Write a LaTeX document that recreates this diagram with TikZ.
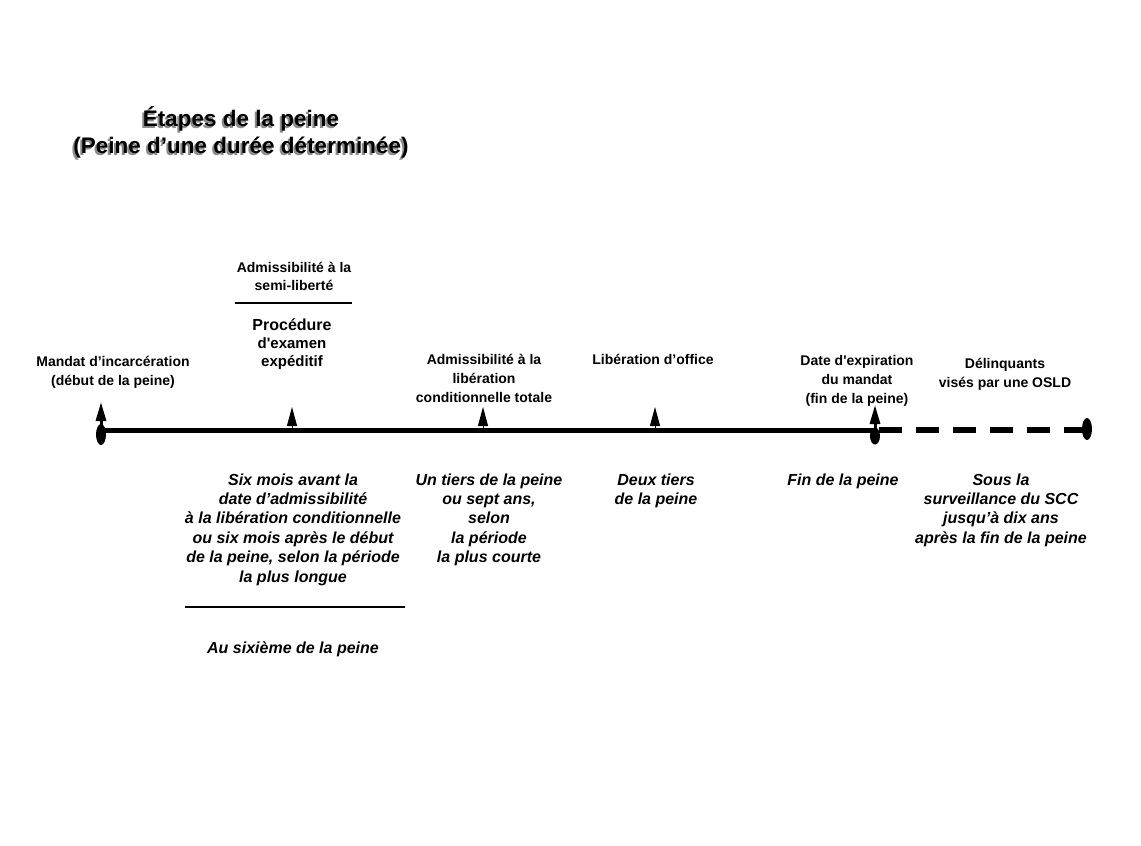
\documentclass[tikz,border=0pt]{standalone}
\usepackage{fontspec}
\setmainfont{Liberation Sans}
\usetikzlibrary{arrows.meta,shapes.geometric}
\begin{document}
\begin{tikzpicture}[x=1pt,y=-1pt,
  lbl/.style={align=center,anchor=base,inner sep=0pt,font=\fontsize{14}{19}\selectfont\bfseries},
  note/.style={align=center,anchor=base,inner sep=0pt,font=\fontsize{16}{19.4}\selectfont\bfseries\itshape},
  ttl/.style={align=center,anchor=base,inner sep=0pt,font=\fontsize{22.5}{27}\selectfont\bfseries},
  axisline/.style={line width=5pt},
  extline/.style={line width=6pt,dash pattern=on 23pt off 14pt,dash phase=33pt},
  dot/.style={ellipse,fill=black,inner sep=0pt,minimum width=10pt,minimum height=21pt},
  tick/.style={line width=1pt,-{Triangle[length=19pt,width=10pt]}},
  sep/.style={line width=1.5pt}
]
\fill[white] (0,0) rectangle (1141,846);
\useasboundingbox (0,0) rectangle (1141,846);

% title with drop shadow (node base = baseline of the last line)
\node[ttl,text=black!45] (titleshadow) at (239,155) {Étapes de la peine\\(Peine d’une durée déterminée)};
\node[ttl] (title) at (241,153) {Étapes de la peine\\(Peine d’une durée déterminée)};

% time axis
\coordinate (ax0) at (101,430);
\coordinate (ax1) at (875,430);
\coordinate (ax2) at (1087,430);
\draw[axisline] (ax0) -- (ax1);
\draw[extline] (ax1) -- (ax2);

% milestone markers
\coordinate (k0) at (101,428);  \coordinate (k0t) at (101,402);
\coordinate (k1) at (292,428);  \coordinate (k1t) at (292,407);
\coordinate (k2) at (483,428);  \coordinate (k2t) at (483,407);
\coordinate (k3) at (655,428);  \coordinate (k3t) at (655,407);
\coordinate (k4) at (875,428);  \coordinate (k4t) at (875,405);
\draw[tick,line width=3pt] (k0) -- (k0t);
\draw[tick] (k1) -- (k1t);
\draw[tick] (k2) -- (k2t);
\draw[tick] (k3) -- (k3t);
\draw[tick,line width=3pt] (k4) -- (k4t);

\node[dot] (start) at (101,434.5) {};
\node[dot,minimum height=17pt] (fin) at (875,436) {};
\node[dot,minimum height=22pt] (osld) at (1087,429) {};

% labels above the axis
\node[lbl] (mandat) at (113,385) {Mandat d’incarcération\\(début de la peine)};
\node[lbl,font=\fontsize{14}{18}\selectfont\bfseries] (semi) at (294,290) {Admissibilité à la\\semi-liberté};
\draw[sep] (235,303) -- (352,303);
\node[lbl,font=\fontsize{16}{18}\selectfont\bfseries] (proc) at (292,330) {Procédure};
\node[lbl,font=\fontsize{15}{18}\selectfont\bfseries] (exam) at (292,366) {d\textquotesingle examen\\expéditif};
\node[lbl] (totale) at (484,402) {Admissibilité à la\\libération\\conditionnelle totale};
\node[lbl] (office) at (653,364) {Libération d’office};
\node[lbl] (expir) at (857,403) {Date d\textquotesingle expiration\\du mandat\\(fin de la peine)};
\node[lbl] (delinq) at (1005,387) {Délinquants\\visés par une OSLD};

% timing notes below the axis
\node[note] (n1) at (293,582) {Six mois avant la\\date d’admissibilité\\à la libération conditionnelle\\ou six mois après le début\\de la peine, selon la période\\la plus longue};
\draw[line width=2pt] (185,607) -- (405,607);
\node[note] (n1b) at (293,653) {Au sixième de la peine};
\node[note] (n2) at (489,562.6) {Un tiers de la peine\\ou sept ans,\\selon\\la période\\la plus courte};
\node[note] (n3) at (656,504.4) {Deux tiers\\de la peine};
\node[note] (n4) at (843,485) {Fin de la peine};
\node[note] (n5) at (1001,543.2) {Sous la\\surveillance du SCC\\jusqu’à dix ans\\après la fin de la peine};
\end{tikzpicture}
\end{document}
